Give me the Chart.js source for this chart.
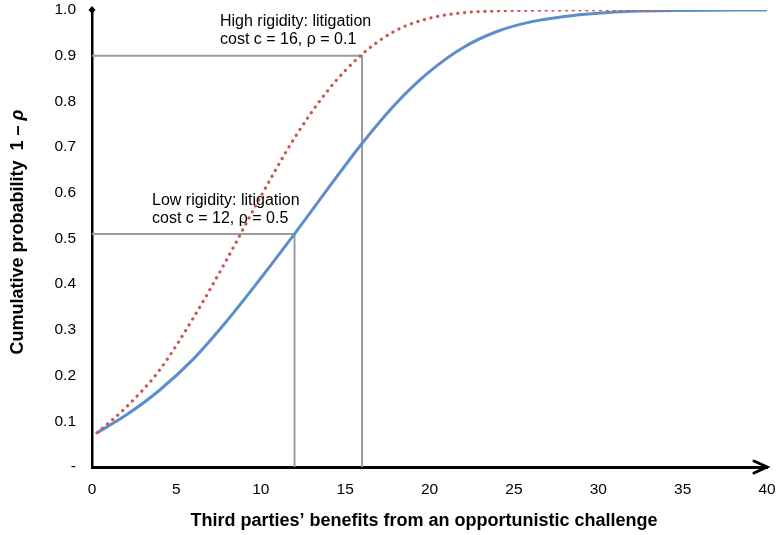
<!DOCTYPE html>
<html lang="en">
<head>
    <meta charset="UTF-8">
    <title>Cumulative probability</title>
    <style>
        html, body { margin: 0; padding: 0; background: #fff; }
        #wrap { width: 776px; height: 535px; }
    </style>
    <script src="https://cdn.jsdelivr.net/npm/chart.js"></script>
</head>
<body>
    <div id="wrap"><canvas id="cdfChart" width="776" height="535"></canvas></div>

    <script>
        // values
        const lowX  = [0.3, 2, 4, 6, 8, 10, 12, 14, 16, 18, 20, 22, 24, 26, 28, 30, 32, 35, 40];
        const lowY  = [0.075, 0.113, 0.168, 0.236, 0.32, 0.413, 0.51, 0.61, 0.708, 0.795, 0.865, 0.918, 0.953, 0.974, 0.986, 0.993, 0.997, 0.999, 1.0];
        const highX = [0.3, 2, 4, 6, 8, 10, 12, 14, 16, 18, 20, 22, 24, 26, 30, 34.3];
        const highY = [0.075, 0.13, 0.212, 0.326, 0.455, 0.592, 0.72, 0.825, 0.903, 0.955, 0.982, 0.994, 0.998, 0.9995, 1.0, 1.0];

        // guide lines: cost c and resulting probability
        const guideCost = [16, 12];
        const guideProb = [0.9, 0.51];

        const xTicks = [0, 5, 10, 15, 20, 25, 30, 35, 40];
        const yTicks = [0, 0.1, 0.2, 0.3, 0.4, 0.5, 0.6, 0.7, 0.8, 0.9, 1.0];

        const toPoints = (xs, ys) => xs.map((x, i) => ({ x: x, y: ys[i] }));

        const guideSets = guideCost.map((c, i) => ({
            data: [{ x: 0, y: guideProb[i] }, { x: c, y: guideProb[i] }, { x: c, y: 0 }],
            borderColor: '#9b9b9b',
            borderWidth: 2,
            pointRadius: 0,
            tension: 0,
            order: 5
        }));

        const FONT = '"Liberation Sans", Arial, sans-serif';

        // axis decorations, labels and titles
        const decorPlugin = {
            id: 'decor',
            afterDraw(chart) {
                const { ctx, chartArea: a } = chart;
                ctx.save();
                ctx.fillStyle = '#000';
                ctx.strokeStyle = '#000';

                // diamond on top of y axis
                ctx.beginPath();
                ctx.moveTo(a.left, a.top - 4);
                ctx.lineTo(a.left + 3.5, a.top);
                ctx.lineTo(a.left, a.top + 4);
                ctx.lineTo(a.left - 3.5, a.top);
                ctx.closePath();
                ctx.fill();

                // open arrow head at end of x axis
                ctx.lineWidth = 3;
                ctx.lineCap = 'round';
                ctx.beginPath();
                ctx.moveTo(a.right - 13, a.bottom - 6);
                ctx.lineTo(a.right, a.bottom);
                ctx.lineTo(a.right - 13, a.bottom + 6);
                ctx.stroke();

                // annotations
                ctx.font = '16px ' + FONT;
                ctx.textAlign = 'left';
                ctx.textBaseline = 'middle';
                ctx.fillText('High rigidity: litigation', 220, 22);
                ctx.fillText('cost c = 16, \u03c1 = 0.1', 220, 40);
                ctx.fillText('Low rigidity: litigation', 152, 201);
                ctx.fillText('cost c = 12, \u03c1 = 0.5', 152, 219);

                // x title
                ctx.font = 'bold 18px ' + FONT;
                ctx.textAlign = 'center';
                ctx.fillText('Third parties\u2019 benefits from an opportunistic challenge', 424, 521);

                // y title, rotated, with italic rho
                ctx.translate(18, 232);
                ctx.rotate(-Math.PI / 2);
                const part1 = 'Cumulative probability  1 \u2013 ';
                const part2 = '\u03c1';
                ctx.font = 'bold 18px ' + FONT;
                const w1 = ctx.measureText(part1).width;
                ctx.font = 'italic bold 18px ' + FONT;
                const w2 = ctx.measureText(part2).width;
                ctx.textAlign = 'left';
                ctx.font = 'bold 18px ' + FONT;
                ctx.fillText(part1, -(w1 + w2) / 2, 0);
                ctx.font = 'italic bold 18px ' + FONT;
                ctx.fillText(part2, -(w1 + w2) / 2 + w1, 0);
                ctx.restore();
            }
        };

        const ctx = document.getElementById('cdfChart').getContext('2d');
        new Chart(ctx, {
            type: 'line',
            data: {
                datasets: [
                    {
                        label: 'Low rigidity',
                        data: toPoints(lowX, lowY),
                        borderColor: '#5b8fcb',
                        borderWidth: 3,
                        pointRadius: 0,
                        cubicInterpolationMode: 'monotone',
                        order: 1
                    },
                    {
                        label: 'High rigidity',
                        data: toPoints(highX, highY),
                        borderColor: '#cc5550',
                        borderWidth: 3.2,
                        borderDash: [0.1, 6.7],
                        borderCapStyle: 'round',
                        pointRadius: 0,
                        cubicInterpolationMode: 'monotone',
                        order: 0
                    },
                    ...guideSets
                ]
            },
            options: {
                responsive: false,
                animation: false,
                events: [],
                layout: { padding: { left: 0, top: 10, right: 9, bottom: 0 } },
                plugins: {
                    legend: { display: false },
                    tooltip: { enabled: false }
                },
                scales: {
                    x: {
                        type: 'linear',
                        min: 0,
                        max: 40,
                        afterFit: s => { s.height = 68; s.paddingLeft = 0; s.paddingRight = 0; },
                        afterBuildTicks: s => { s.ticks = xTicks.map(v => ({ value: v })); },
                        grid: { display: false, drawTicks: false },
                        border: { display: true, color: '#000', width: 3 },
                        ticks: {
                            padding: 13,
                            color: '#000',
                            maxRotation: 0,
                            autoSkip: false,
                            font: { size: 15.5, family: FONT }
                        }
                    },
                    y: {
                        type: 'linear',
                        min: 0,
                        max: 1,
                        afterFit: s => { s.width = 92; s.paddingTop = 0; s.paddingBottom = 0; },
                        afterBuildTicks: s => { s.ticks = yTicks.map(v => ({ value: v })); },
                        grid: { display: false, drawTicks: false },
                        border: { display: true, color: '#000', width: 2.5 },
                        ticks: {
                            padding: 16,
                            color: '#000',
                            autoSkip: false,
                            font: { size: 15.5, family: FONT },
                            callback: v => v === 0 ? '-' : v.toFixed(1)
                        }
                    }
                }
            },
            plugins: [decorPlugin]
        });
    </script>
</body>
</html>
